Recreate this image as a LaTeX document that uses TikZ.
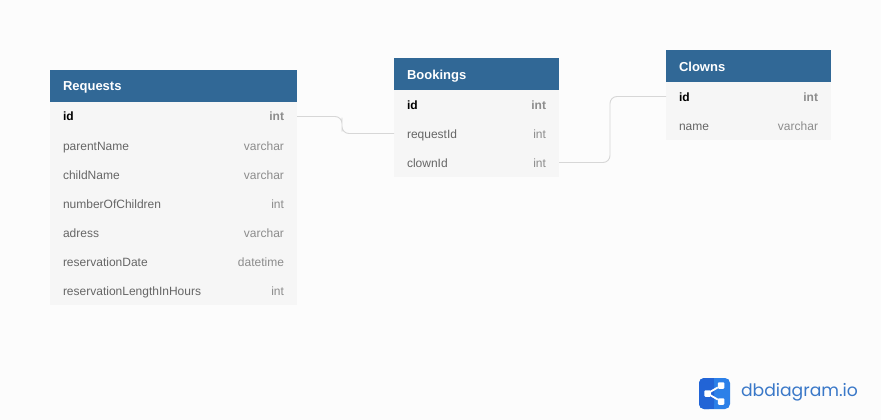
\documentclass[tikz,border=0pt]{standalone}
\usepackage{fontspec}
\setmainfont{Liberation Sans}
\newfontfamily\logofont{Poppins}
\usetikzlibrary{positioning,calc}
\definecolor{dbhead}{RGB}{49,104,150}
\definecolor{dbrow}{RGB}{246,246,246}
\definecolor{dbback}{RGB}{252,252,252}
\definecolor{dbline}{RGB}{215,215,215}
\definecolor{dbname}{RGB}{102,102,102}
\definecolor{dbtype}{RGB}{140,140,140}
\definecolor{dblogo}{RGB}{34,100,214}
\definecolor{dblogolight}{RGB}{44,128,232}
\definecolor{dblogotext}{RGB}{58,120,200}

\begin{document}
\begin{tikzpicture}[%
    x=1pt,y=-1pt,
    node distance=0pt,
    every node/.style={inner ysep=0,outer sep=0,font=\fontsize{12}{14}\selectfont},
    headbox/.style={fill=dbhead,text=white,font=\fontsize{13}{14}\selectfont\bfseries,
                    minimum height=32pt,inner xsep=13pt,text width=#1,text height=11pt,text depth=1pt,anchor=north west},
    rowbox/.style={fill=dbrow,text=dbname,minimum height=29pt,inner xsep=13pt,text width=#1,text height=10pt,text depth=1pt},
    link/.style={draw=dbline,line width=0.9pt,rounded corners=7pt},
    sharedot/.style={fill=white,rounded corners=1pt,minimum size=6.5pt,inner sep=0}
    ]
    \fill[dbback] (0,0) rectangle (881,420);
    \useasboundingbox (0,0) rectangle (881,420);
    %%% Requests
    \node[headbox=221pt] (req_head) at (50,70) {Requests};
    \node[rowbox=221pt,below=of req_head] (req_id) {\textbf{\textcolor{black}{id}}\hfill\textbf{\textcolor{dbtype}{int}}};
    \node[rowbox=221pt,below=of req_id] (req_parent) {parentName\hfill\textcolor{dbtype}{varchar}};
    \node[rowbox=221pt,below=of req_parent] (req_child) {childName\hfill\textcolor{dbtype}{varchar}};
    \node[rowbox=221pt,below=of req_child] (req_number) {numberOfChildren\hfill\textcolor{dbtype}{int}};
    \node[rowbox=221pt,below=of req_number] (req_adress) {adress\hfill\textcolor{dbtype}{varchar}};
    \node[rowbox=221pt,below=of req_adress] (req_date) {reservationDate\hfill\textcolor{dbtype}{datetime}};
    \node[rowbox=221pt,below=of req_date] (req_length) {reservationLengthInHours\hfill\textcolor{dbtype}{int}};
    %%% Bookings
    \node[headbox=139pt] (book_head) at (394,58) {Bookings};
    \node[rowbox=139pt,below=of book_head] (book_id) {\textbf{\textcolor{black}{id}}\hfill\textbf{\textcolor{dbtype}{int}}};
    \node[rowbox=139pt,below=of book_id] (book_request) {requestId\hfill\textcolor{dbtype}{int}};
    \node[rowbox=139pt,below=of book_request] (book_clown) {clownId\hfill\textcolor{dbtype}{int}};
    %%% Clowns
    \node[headbox=139pt] (clown_head) at (666,50) {Clowns};
    \node[rowbox=139pt,below=of clown_head] (clown_id) {\textbf{\textcolor{black}{id}}\hfill\textbf{\textcolor{dbtype}{int}}};
    \node[rowbox=139pt,below=of clown_id] (clown_name) {name\hfill\textcolor{dbtype}{varchar}};
    %%% Verbindingen
    \draw[link] (req_id.east) -| ++(45,8) |- (book_request.west);
    \draw[link] (book_clown.east) -| ++(51,-30) |- (clown_id.west);
    %%% Logo
    \fill[dblogolight,rounded corners=5pt] (699,378) rectangle (730,409);
    \fill[dblogo,rounded corners=5pt] (699,378) rectangle (714,409);
    \fill[dblogo] (709,378) rectangle (714,409);
    \node[sharedot] (logo_left) at (707.5,393.5) {};
    \node[sharedot] (logo_top) at (721,385.5) {};
    \node[sharedot] (logo_bottom) at (721,401.5) {};
    \draw[white,line width=1.8pt] (logo_top) -- (logo_left) -- (logo_bottom);
    \node[anchor=west,inner xsep=0,text=dblogotext,font=\logofont\fontsize{17.2}{20}\selectfont] (logo_text) at (741,392.5) {dbdiagram.io};
\end{tikzpicture}
\end{document}
